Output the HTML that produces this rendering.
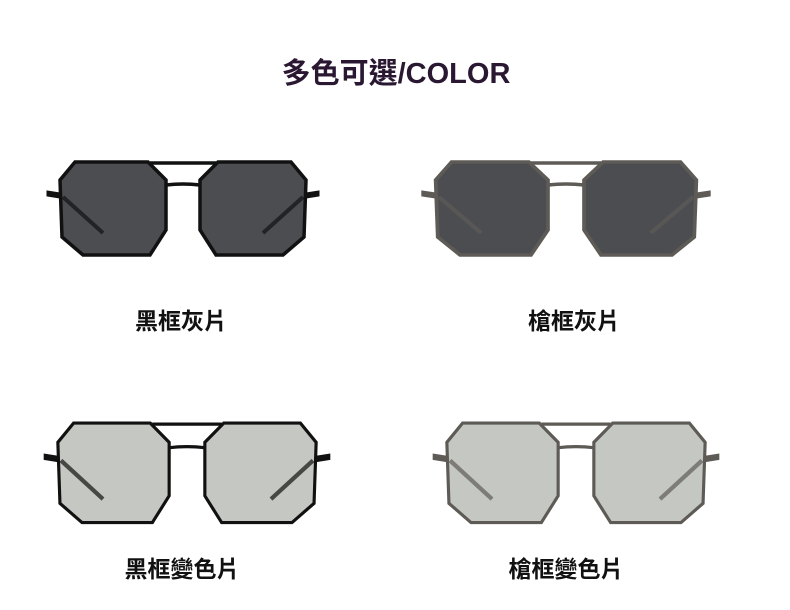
<!DOCTYPE html>
<html><head><meta charset="utf-8"><style>
body{margin:0;background:#fff;width:790px;height:610px;overflow:hidden;position:relative;font-family:"Liberation Sans","Noto Sans CJK TC",sans-serif}
.t{position:absolute;font-weight:bold;color:#111;white-space:nowrap;transform:translateX(-50%)}
</style></head><body>
<div class="t" style="left:396px;top:50px;font-size:29px;color:#2a1833">多色可選/COLOR</div>
<div class="t" style="left:181px;top:302px;font-size:23px">黑框灰片</div>
<div class="t" style="left:574px;top:302px;font-size:23px">槍框灰片</div>
<div class="t" style="left:182px;top:550px;font-size:23px">黑框變色片</div>
<div class="t" style="left:566px;top:550px;font-size:23px">槍框變色片</div>
<svg width="790" height="610" style="position:absolute;left:0;top:0">
<defs>
<g id="arms">
<path d="M-123,32 L-136,30 L-136,35 L-123,37 Z M123,32 L136,30 L136,35 L123,37 Z" />
<path d="M-120,36 L-80,72" stroke-width="4" fill="none" opacity="0.7"/>
<path d="M120,36 L80,72" stroke-width="4" fill="none" opacity="0.7"/>
</g>
<g id="front">
<polygon points="-108,1 -35,1 -17,19 -17,69 -33,94 -100,94 -121,76 -123,19"/>
<polygon points="108,1 35,1 17,19 17,69 33,94 100,94 121,76 123,19"/>
<path d="M-33,2 L33,2 M-17,24 Q0,22 17,24" fill="none"/>
</g>
</defs>
<g transform="translate(183,161)" stroke="#111" fill="#111">
<g fill="#4b4d51" stroke-width="3.5"><use href="#front"/></g>
<use href="#arms"/>
</g>
<g transform="translate(566,161) scale(1.06,1)" stroke="#5e5b57" fill="#5e5b57">
<g fill="#4b4d51" stroke-width="3.5"><use href="#front"/></g>
<use href="#arms"/>
</g>
<g transform="translate(187,422) scale(1.05,1.07)" stroke="#111" fill="#111">
<g fill="#c5c8c2" stroke-width="3"><use href="#front"/></g>
<use href="#arms"/>
</g>
<g transform="translate(576,422) scale(1.05,1.07)" stroke="#5e5b57" fill="#5e5b57">
<g fill="#c5c8c2" stroke-width="3"><use href="#front"/></g>
<use href="#arms"/>
</g>
</svg>
</body></html>
